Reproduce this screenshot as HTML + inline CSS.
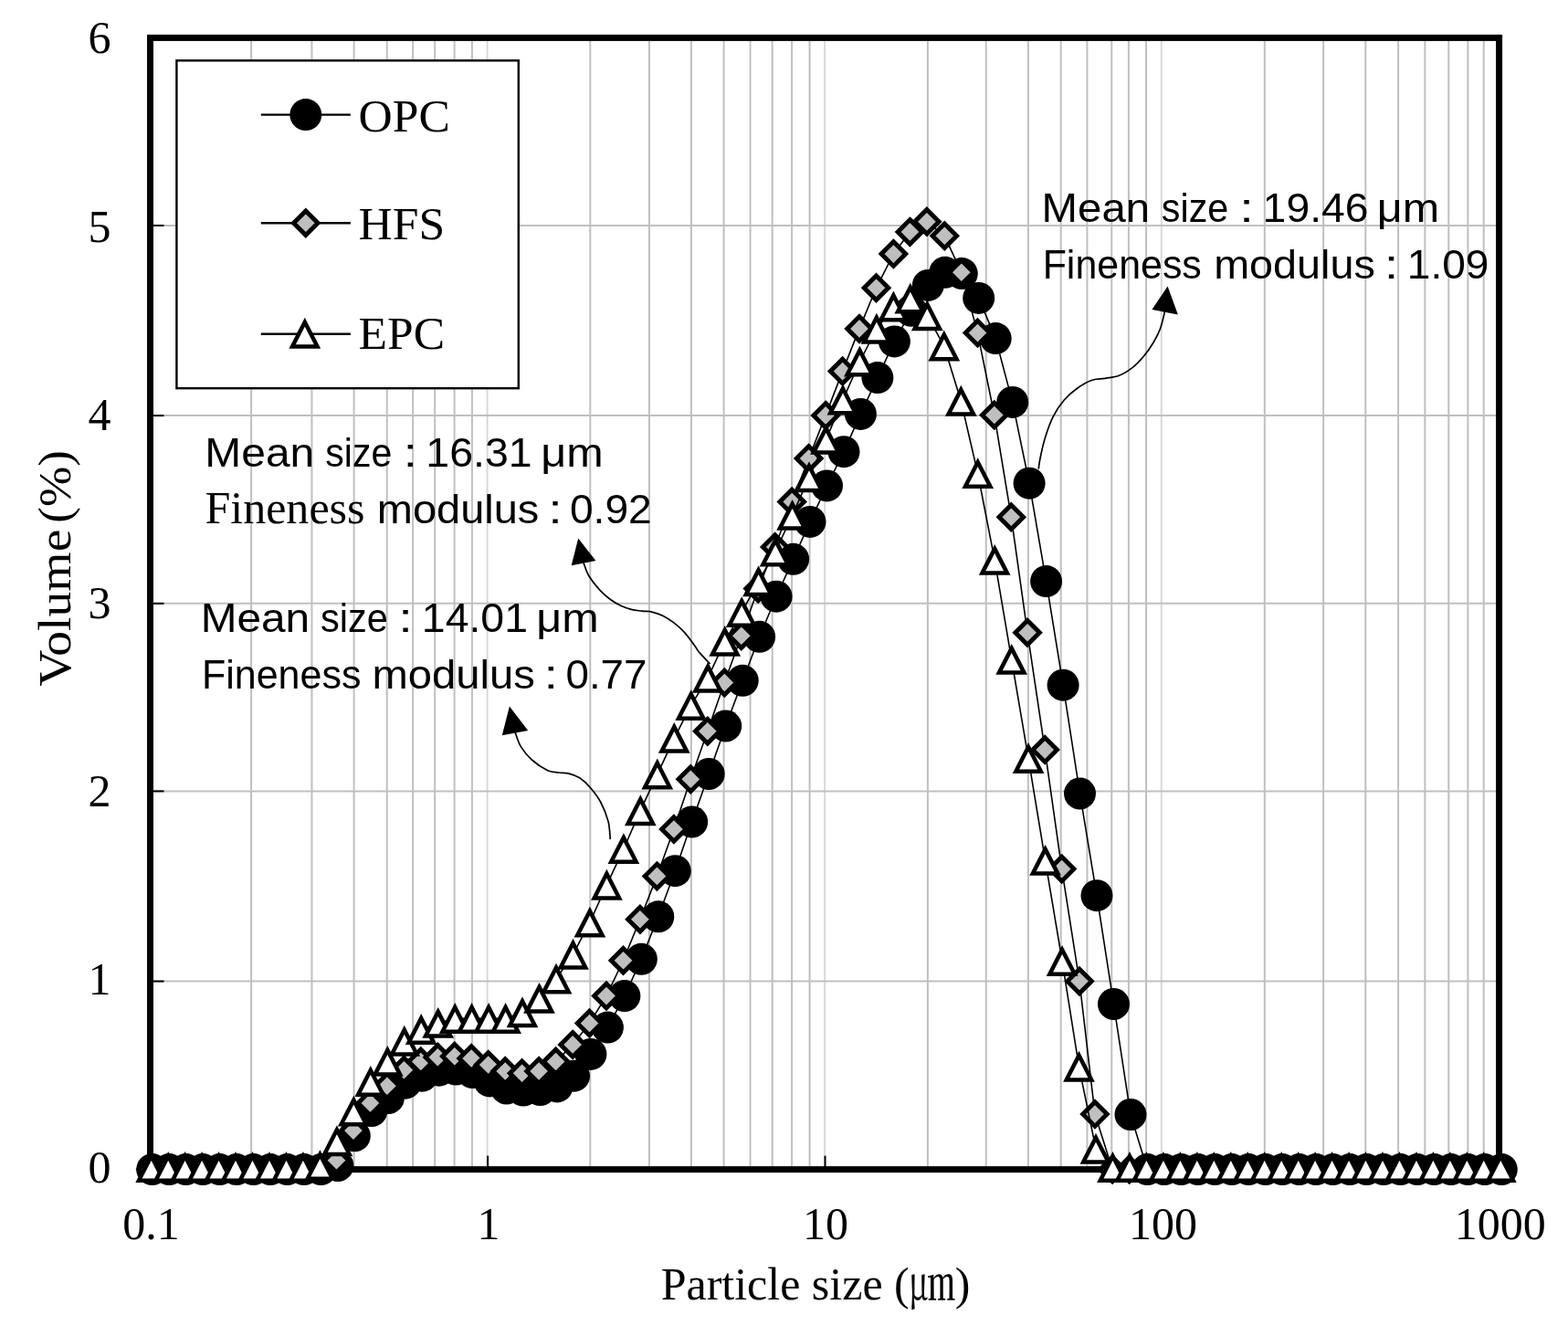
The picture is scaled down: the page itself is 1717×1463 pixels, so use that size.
<!DOCTYPE html>
<html lang="en"><head><meta charset="utf-8"><title>Particle size distribution</title>
<style>html,body{margin:0;padding:0;background:#fff}svg{display:block}text{font-family:"Liberation Serif",serif;fill:#000}.sans{font-family:"Liberation Sans",sans-serif}</style></head><body>
<svg width="1717" height="1463" viewBox="0 0 1717 1463">
<rect x="0" y="0" width="1717" height="1463" fill="#fff"/>
<g stroke="#bfbfbf" stroke-width="2" fill="none">
<line x1="275.10" y1="41.40" x2="275.10" y2="1280.60"/>
<line x1="341.45" y1="41.40" x2="341.45" y2="1280.60"/>
<line x1="387.60" y1="41.40" x2="387.60" y2="1280.60"/>
<line x1="423.70" y1="41.40" x2="423.70" y2="1280.60"/>
<line x1="452.15" y1="41.40" x2="452.15" y2="1280.60"/>
<line x1="476.18" y1="41.40" x2="476.18" y2="1280.60"/>
<line x1="497.60" y1="41.40" x2="497.60" y2="1280.60"/>
<line x1="516.90" y1="41.40" x2="516.90" y2="1280.60"/>
<line x1="533.60" y1="41.40" x2="533.60" y2="1280.60" stroke="#d8d8d8"/>
<line x1="646.30" y1="41.40" x2="646.30" y2="1280.60"/>
<line x1="710.95" y1="41.40" x2="710.95" y2="1280.60"/>
<line x1="756.90" y1="41.40" x2="756.90" y2="1280.60"/>
<line x1="792.60" y1="41.40" x2="792.60" y2="1280.60"/>
<line x1="821.55" y1="41.40" x2="821.55" y2="1280.60"/>
<line x1="845.68" y1="41.40" x2="845.68" y2="1280.60"/>
<line x1="867.10" y1="41.40" x2="867.10" y2="1280.60"/>
<line x1="886.60" y1="41.40" x2="886.60" y2="1280.60"/>
<line x1="903.20" y1="41.40" x2="903.20" y2="1280.60" stroke="#d8d8d8"/>
<line x1="1015.90" y1="41.40" x2="1015.90" y2="1280.60"/>
<line x1="1079.75" y1="41.40" x2="1079.75" y2="1280.60"/>
<line x1="1125.90" y1="41.40" x2="1125.90" y2="1280.60"/>
<line x1="1161.70" y1="41.40" x2="1161.70" y2="1280.60"/>
<line x1="1190.45" y1="41.40" x2="1190.45" y2="1280.60"/>
<line x1="1217.28" y1="41.40" x2="1217.28" y2="1280.60"/>
<line x1="1235.90" y1="41.40" x2="1235.90" y2="1280.60"/>
<line x1="1255.10" y1="41.40" x2="1255.10" y2="1280.60"/>
<line x1="1271.80" y1="41.40" x2="1271.80" y2="1280.60" stroke="#d8d8d8"/>
<line x1="1384.80" y1="41.40" x2="1384.80" y2="1280.60"/>
<line x1="1449.15" y1="41.40" x2="1449.15" y2="1280.60"/>
<line x1="1495.30" y1="41.40" x2="1495.30" y2="1280.60"/>
<line x1="1531.10" y1="41.40" x2="1531.10" y2="1280.60"/>
<line x1="1560.35" y1="41.40" x2="1560.35" y2="1280.60"/>
<line x1="1586.28" y1="41.40" x2="1586.28" y2="1280.60"/>
<line x1="1607.40" y1="41.40" x2="1607.40" y2="1280.60"/>
<line x1="1624.70" y1="41.40" x2="1624.70" y2="1280.60"/>
<line x1="164.50" y1="1074.56" x2="1641.60" y2="1074.56"/>
<line x1="164.50" y1="866.40" x2="1641.60" y2="866.40"/>
<line x1="164.50" y1="660.86" x2="1641.60" y2="660.86"/>
<line x1="164.50" y1="455.10" x2="1641.60" y2="455.10"/>
<line x1="164.50" y1="246.95" x2="1641.60" y2="246.95"/>
</g>
<g stroke="#000" stroke-width="2" fill="none">
<line x1="164.50" y1="1074.56" x2="179.50" y2="1074.56"/>
<line x1="164.50" y1="866.40" x2="179.50" y2="866.40"/>
<line x1="164.50" y1="660.86" x2="179.50" y2="660.86"/>
<line x1="164.50" y1="455.10" x2="179.50" y2="455.10"/>
<line x1="164.50" y1="246.95" x2="179.50" y2="246.95"/>
<line x1="534.10" y1="1280.60" x2="534.10" y2="1265.60"/>
<line x1="903.50" y1="1280.60" x2="903.50" y2="1265.60"/>
<line x1="1272.90" y1="1280.60" x2="1272.90" y2="1265.60"/>
</g>
<rect x="164.50" y="41.40" width="1477.10" height="1239.20" fill="none" stroke="#000" stroke-width="7"/>
<rect x="193.4" y="66.3" width="374.4" height="358.9" fill="#fff" stroke="#000" stroke-width="2.4"/>
<g fill="none" stroke="#000" stroke-width="1.7">
<path d="M1137.3 513.5C1137.5 511.8 1137.7 508.5 1138.8 503.0C1139.9 497.5 1141.7 488.3 1144.1 480.5C1146.5 472.7 1149.6 463.4 1153.1 456.4C1156.6 449.4 1160.6 443.6 1165.1 438.3C1169.6 433.0 1175.2 428.4 1180.2 424.8C1185.2 421.2 1190.2 418.2 1195.2 416.5C1200.2 414.8 1205.2 415.2 1210.2 414.3C1215.2 413.4 1220.3 413.3 1225.3 411.3C1230.3 409.3 1235.8 405.8 1240.3 402.3C1244.8 398.8 1248.5 394.7 1252.3 390.2C1256.1 385.7 1259.9 380.2 1262.9 375.2C1265.9 370.2 1268.4 365.5 1270.4 360.2C1272.4 354.9 1274.0 347.6 1274.9 343.6C1275.8 339.6 1275.8 337.3 1276.0 336.0"/>
<path d="M777.5 727.0C775.5 724.9 768.5 717.6 765.7 714.4C763.0 711.1 763.7 711.2 761.0 707.5C758.3 703.8 753.3 696.7 749.4 692.4C745.5 688.1 741.7 684.9 737.8 681.9C733.9 678.9 730.1 676.3 726.2 674.4C722.3 672.5 718.5 671.2 714.6 670.3C710.7 669.4 706.9 669.6 703.0 669.1C699.1 668.6 695.2 668.4 691.3 667.4C687.4 666.4 683.6 665.1 679.7 663.3C675.8 661.4 672.0 659.2 668.1 656.3C664.2 653.4 660.4 650.1 656.5 645.9C652.6 641.6 647.7 635.4 644.9 630.8C642.1 626.1 640.8 621.1 639.6 618.0C638.5 614.9 638.3 613.0 638.0 612.0"/>
<path d="M668.3 919.2C667.9 915.9 667.8 906.2 666.0 899.4C664.2 892.6 661.1 884.7 657.8 878.5C654.5 872.3 650.1 866.8 646.2 862.3C642.3 857.8 638.5 854.3 634.6 851.8C630.7 849.3 626.9 848.1 623.0 847.1C619.1 846.1 615.2 846.6 611.3 846.0C607.4 845.4 604.5 846.0 599.7 843.7C594.9 841.4 587.1 836.3 582.3 832.0C577.5 827.7 573.6 822.7 570.7 818.1C567.8 813.5 566.1 807.6 564.9 804.2C563.7 800.9 563.7 799.0 563.5 798.0"/>
</g>
<g fill="#000" stroke="none">
<polygon points="1278.6,313.5 1261.4,339.1 1289.9,344.4"/>
<polygon points="633.2,589.5 625.7,619.2 652.4,613.9"/>
<polygon points="557.9,773.4 549.8,805.3 578.2,800.1"/>
</g>
<g id="opc"><polyline points="166.7,1280.6 185.2,1280.6 203.6,1280.6 222.1,1280.6 240.6,1280.6 259.0,1280.6 277.5,1280.6 296.0,1280.6 314.5,1280.6 332.9,1280.6 351.4,1280.6 369.9,1276.5 388.3,1243.8 406.8,1216.6 425.3,1202.5 443.8,1186.2 462.2,1178.2 480.7,1172.2 499.2,1171.1 517.6,1174.6 536.1,1183.9 554.6,1192.0 573.0,1194.1 591.5,1193.6 610.0,1189.9 628.5,1178.2 646.9,1154.4 665.4,1125.1 683.9,1090.6 702.3,1050.3 720.8,1003.8 739.3,953.7 757.7,900.0 776.2,847.5 794.7,795.0 813.2,745.3 831.6,697.3 850.1,653.2 868.6,612.3 887.0,571.4 905.5,531.9 924.0,494.7 942.4,453.4 960.9,413.6 979.4,373.9 997.8,340.3 1016.3,312.4 1034.8,298.3 1053.3,299.6 1071.7,326.4 1090.2,370.6 1108.7,440.4 1127.1,529.2 1145.6,636.6 1164.1,750.2 1182.5,869.0 1201.0,980.7 1219.5,1099.5 1238.0,1220.5 1256.4,1280.6 1274.9,1280.6 1293.4,1280.6 1311.8,1280.6 1330.3,1280.6 1348.8,1280.6 1367.2,1280.6 1385.7,1280.6 1404.2,1280.6 1422.7,1280.6 1441.1,1280.6 1459.6,1280.6 1478.1,1280.6 1496.5,1280.6 1515.0,1280.6 1533.5,1280.6 1552.0,1280.6 1570.4,1280.6 1588.9,1280.6 1607.4,1280.6 1625.8,1280.6 1644.3,1280.6" fill="none" stroke="#000" stroke-width="1.6"/>
<g fill="#000">
<circle cx="166.7" cy="1280.6" r="17.5"/>
<circle cx="185.2" cy="1280.6" r="17.5"/>
<circle cx="203.6" cy="1280.6" r="17.5"/>
<circle cx="222.1" cy="1280.6" r="17.5"/>
<circle cx="240.6" cy="1280.6" r="17.5"/>
<circle cx="259.0" cy="1280.6" r="17.5"/>
<circle cx="277.5" cy="1280.6" r="17.5"/>
<circle cx="296.0" cy="1280.6" r="17.5"/>
<circle cx="314.5" cy="1280.6" r="17.5"/>
<circle cx="332.9" cy="1280.6" r="17.5"/>
<circle cx="351.4" cy="1280.6" r="17.5"/>
<circle cx="369.9" cy="1276.5" r="17.5"/>
<circle cx="388.3" cy="1243.8" r="17.5"/>
<circle cx="406.8" cy="1216.6" r="17.5"/>
<circle cx="425.3" cy="1202.5" r="17.5"/>
<circle cx="443.8" cy="1186.2" r="17.5"/>
<circle cx="462.2" cy="1178.2" r="17.5"/>
<circle cx="480.7" cy="1172.2" r="17.5"/>
<circle cx="499.2" cy="1171.1" r="17.5"/>
<circle cx="517.6" cy="1174.6" r="17.5"/>
<circle cx="536.1" cy="1183.9" r="17.5"/>
<circle cx="554.6" cy="1192.0" r="17.5"/>
<circle cx="573.0" cy="1194.1" r="17.5"/>
<circle cx="591.5" cy="1193.6" r="17.5"/>
<circle cx="610.0" cy="1189.9" r="17.5"/>
<circle cx="628.5" cy="1178.2" r="17.5"/>
<circle cx="646.9" cy="1154.4" r="17.5"/>
<circle cx="665.4" cy="1125.1" r="17.5"/>
<circle cx="683.9" cy="1090.6" r="17.5"/>
<circle cx="702.3" cy="1050.3" r="17.5"/>
<circle cx="720.8" cy="1003.8" r="17.5"/>
<circle cx="739.3" cy="953.7" r="17.5"/>
<circle cx="757.7" cy="900.0" r="17.5"/>
<circle cx="776.2" cy="847.5" r="17.5"/>
<circle cx="794.7" cy="795.0" r="17.5"/>
<circle cx="813.2" cy="745.3" r="17.5"/>
<circle cx="831.6" cy="697.3" r="17.5"/>
<circle cx="850.1" cy="653.2" r="17.5"/>
<circle cx="868.6" cy="612.3" r="17.5"/>
<circle cx="887.0" cy="571.4" r="17.5"/>
<circle cx="905.5" cy="531.9" r="17.5"/>
<circle cx="924.0" cy="494.7" r="17.5"/>
<circle cx="942.4" cy="453.4" r="17.5"/>
<circle cx="960.9" cy="413.6" r="17.5"/>
<circle cx="979.4" cy="373.9" r="17.5"/>
<circle cx="997.8" cy="340.3" r="17.5"/>
<circle cx="1016.3" cy="312.4" r="17.5"/>
<circle cx="1034.8" cy="298.3" r="17.5"/>
<circle cx="1053.3" cy="299.6" r="17.5"/>
<circle cx="1071.7" cy="326.4" r="17.5"/>
<circle cx="1090.2" cy="370.6" r="17.5"/>
<circle cx="1108.7" cy="440.4" r="17.5"/>
<circle cx="1127.1" cy="529.2" r="17.5"/>
<circle cx="1145.6" cy="636.6" r="17.5"/>
<circle cx="1164.1" cy="750.2" r="17.5"/>
<circle cx="1182.5" cy="869.0" r="17.5"/>
<circle cx="1201.0" cy="980.7" r="17.5"/>
<circle cx="1219.5" cy="1099.5" r="17.5"/>
<circle cx="1238.0" cy="1220.5" r="17.5"/>
<circle cx="1256.4" cy="1280.6" r="17.5"/>
<circle cx="1274.9" cy="1280.6" r="17.5"/>
<circle cx="1293.4" cy="1280.6" r="17.5"/>
<circle cx="1311.8" cy="1280.6" r="17.5"/>
<circle cx="1330.3" cy="1280.6" r="17.5"/>
<circle cx="1348.8" cy="1280.6" r="17.5"/>
<circle cx="1367.2" cy="1280.6" r="17.5"/>
<circle cx="1385.7" cy="1280.6" r="17.5"/>
<circle cx="1404.2" cy="1280.6" r="17.5"/>
<circle cx="1422.7" cy="1280.6" r="17.5"/>
<circle cx="1441.1" cy="1280.6" r="17.5"/>
<circle cx="1459.6" cy="1280.6" r="17.5"/>
<circle cx="1478.1" cy="1280.6" r="17.5"/>
<circle cx="1496.5" cy="1280.6" r="17.5"/>
<circle cx="1515.0" cy="1280.6" r="17.5"/>
<circle cx="1533.5" cy="1280.6" r="17.5"/>
<circle cx="1552.0" cy="1280.6" r="17.5"/>
<circle cx="1570.4" cy="1280.6" r="17.5"/>
<circle cx="1588.9" cy="1280.6" r="17.5"/>
<circle cx="1607.4" cy="1280.6" r="17.5"/>
<circle cx="1625.8" cy="1280.6" r="17.5"/>
<circle cx="1644.3" cy="1280.6" r="17.5"/>
</g></g>
<g id="hfs"><polyline points="165.3,1280.6 183.8,1280.6 202.2,1280.6 220.7,1280.6 239.2,1280.6 257.6,1280.6 276.1,1280.6 294.6,1280.6 313.1,1280.6 331.5,1280.6 350.0,1280.6 368.5,1270.7 386.9,1238.1 405.4,1207.9 423.9,1189.3 442.4,1171.8 460.8,1162.5 479.3,1157.7 497.8,1156.7 516.2,1159.0 534.7,1166.0 553.2,1173.0 571.6,1175.3 590.1,1173.0 608.6,1162.5 627.1,1143.9 645.5,1120.5 664.0,1090.6 682.5,1051.8 700.9,1006.7 719.4,959.4 737.9,908.0 756.3,853.3 774.8,800.8 793.3,747.5 811.8,696.3 830.2,644.5 848.7,599.0 867.2,549.5 885.6,502.0 904.1,454.9 922.6,406.6 941.0,359.9 959.5,315.3 978.4,278.1 996.4,253.9 1014.9,242.8 1034.3,258.3 1052.8,298.3 1070.5,364.6 1088.8,454.5 1107.3,566.2 1125.1,692.8 1144.2,821.1 1162.7,951.6 1182.0,1074.5 1199.0,1220.1 1218.1,1280.6 1236.6,1280.6 1255.0,1280.6 1273.5,1280.6 1292.0,1280.6 1310.4,1280.6 1328.9,1280.6 1347.4,1280.6 1365.8,1280.6 1384.3,1280.6 1402.8,1280.6 1421.3,1280.6 1439.7,1280.6 1458.2,1280.6 1476.7,1280.6 1495.1,1280.6 1513.6,1280.6 1532.1,1280.6 1550.5,1280.6 1569.0,1280.6 1587.5,1280.6 1606.0,1280.6 1624.4,1280.6 1642.9,1280.6" fill="none" stroke="#000" stroke-width="1.6"/>
<g fill="#bfbfbf" stroke="#000" stroke-width="4.9" stroke-linejoin="miter">
<path d="M165.3 1267.3L178.6 1280.6L165.3 1293.9L152.0 1280.6Z"/>
<path d="M183.8 1267.3L197.1 1280.6L183.8 1293.9L170.5 1280.6Z"/>
<path d="M202.2 1267.3L215.5 1280.6L202.2 1293.9L188.9 1280.6Z"/>
<path d="M220.7 1267.3L234.0 1280.6L220.7 1293.9L207.4 1280.6Z"/>
<path d="M239.2 1267.3L252.5 1280.6L239.2 1293.9L225.9 1280.6Z"/>
<path d="M257.6 1267.3L270.9 1280.6L257.6 1293.9L244.3 1280.6Z"/>
<path d="M276.1 1267.3L289.4 1280.6L276.1 1293.9L262.8 1280.6Z"/>
<path d="M294.6 1267.3L307.9 1280.6L294.6 1293.9L281.3 1280.6Z"/>
<path d="M313.1 1267.3L326.4 1280.6L313.1 1293.9L299.8 1280.6Z"/>
<path d="M331.5 1267.3L344.8 1280.6L331.5 1293.9L318.2 1280.6Z"/>
<path d="M350.0 1267.3L363.3 1280.6L350.0 1293.9L336.7 1280.6Z"/>
<path d="M368.5 1257.4L381.8 1270.7L368.5 1284.0L355.2 1270.7Z"/>
<path d="M386.9 1224.8L400.2 1238.1L386.9 1251.4L373.6 1238.1Z"/>
<path d="M405.4 1194.6L418.7 1207.9L405.4 1221.2L392.1 1207.9Z"/>
<path d="M423.9 1176.0L437.2 1189.3L423.9 1202.6L410.6 1189.3Z"/>
<path d="M442.4 1158.5L455.7 1171.8L442.4 1185.1L429.1 1171.8Z"/>
<path d="M460.8 1149.2L474.1 1162.5L460.8 1175.8L447.5 1162.5Z"/>
<path d="M479.3 1144.4L492.6 1157.7L479.3 1171.0L466.0 1157.7Z"/>
<path d="M497.8 1143.4L511.1 1156.7L497.8 1170.0L484.5 1156.7Z"/>
<path d="M516.2 1145.7L529.5 1159.0L516.2 1172.3L502.9 1159.0Z"/>
<path d="M534.7 1152.7L548.0 1166.0L534.7 1179.3L521.4 1166.0Z"/>
<path d="M553.2 1159.7L566.5 1173.0L553.2 1186.3L539.9 1173.0Z"/>
<path d="M571.6 1162.0L584.9 1175.3L571.6 1188.6L558.3 1175.3Z"/>
<path d="M590.1 1159.7L603.4 1173.0L590.1 1186.3L576.8 1173.0Z"/>
<path d="M608.6 1149.2L621.9 1162.5L608.6 1175.8L595.3 1162.5Z"/>
<path d="M627.1 1130.6L640.4 1143.9L627.1 1157.2L613.8 1143.9Z"/>
<path d="M645.5 1107.2L658.8 1120.5L645.5 1133.8L632.2 1120.5Z"/>
<path d="M664.0 1077.3L677.3 1090.6L664.0 1103.9L650.7 1090.6Z"/>
<path d="M682.5 1038.5L695.8 1051.8L682.5 1065.1L669.2 1051.8Z"/>
<path d="M700.9 993.4L714.2 1006.7L700.9 1020.0L687.6 1006.7Z"/>
<path d="M719.4 946.1L732.7 959.4L719.4 972.7L706.1 959.4Z"/>
<path d="M737.9 894.7L751.2 908.0L737.9 921.3L724.6 908.0Z"/>
<path d="M756.3 840.0L769.6 853.3L756.3 866.6L743.0 853.3Z"/>
<path d="M774.8 787.5L788.1 800.8L774.8 814.1L761.5 800.8Z"/>
<path d="M793.3 734.2L806.6 747.5L793.3 760.8L780.0 747.5Z"/>
<path d="M811.8 683.0L825.1 696.3L811.8 709.6L798.5 696.3Z"/>
<path d="M830.2 631.2L843.5 644.5L830.2 657.8L816.9 644.5Z"/>
<path d="M848.7 585.7L862.0 599.0L848.7 612.3L835.4 599.0Z"/>
<path d="M867.2 536.2L880.5 549.5L867.2 562.8L853.9 549.5Z"/>
<path d="M885.6 488.7L898.9 502.0L885.6 515.3L872.3 502.0Z"/>
<path d="M904.1 441.6L917.4 454.9L904.1 468.2L890.8 454.9Z"/>
<path d="M922.6 393.3L935.9 406.6L922.6 419.9L909.3 406.6Z"/>
<path d="M941.0 346.6L954.3 359.9L941.0 373.2L927.7 359.9Z"/>
<path d="M959.5 302.0L972.8 315.3L959.5 328.6L946.2 315.3Z"/>
<path d="M978.4 264.8L991.7 278.1L978.4 291.4L965.1 278.1Z"/>
<path d="M996.4 240.6L1009.7 253.9L996.4 267.2L983.1 253.9Z"/>
<path d="M1014.9 229.5L1028.2 242.8L1014.9 256.1L1001.6 242.8Z"/>
<path d="M1034.3 245.0L1047.6 258.3L1034.3 271.6L1021.0 258.3Z"/>
<path d="M1052.8 285.0L1066.1 298.3L1052.8 311.6L1039.5 298.3Z"/>
<path d="M1070.5 351.3L1083.8 364.6L1070.5 377.9L1057.2 364.6Z"/>
<path d="M1088.8 441.2L1102.1 454.5L1088.8 467.8L1075.5 454.5Z"/>
<path d="M1107.3 552.9L1120.6 566.2L1107.3 579.5L1094.0 566.2Z"/>
<path d="M1125.1 679.5L1138.4 692.8L1125.1 706.1L1111.8 692.8Z"/>
<path d="M1144.2 807.8L1157.5 821.1L1144.2 834.4L1130.9 821.1Z"/>
<path d="M1162.7 938.3L1176.0 951.6L1162.7 964.9L1149.4 951.6Z"/>
<path d="M1182.0 1061.2L1195.3 1074.5L1182.0 1087.8L1168.8 1074.5Z"/>
<path d="M1199.0 1206.8L1212.3 1220.1L1199.0 1233.4L1185.7 1220.1Z"/>
<path d="M1218.1 1267.3L1231.4 1280.6L1218.1 1293.9L1204.8 1280.6Z"/>
<path d="M1236.6 1267.3L1249.9 1280.6L1236.6 1293.9L1223.3 1280.6Z"/>
<path d="M1255.0 1267.3L1268.3 1280.6L1255.0 1293.9L1241.7 1280.6Z"/>
<path d="M1273.5 1267.3L1286.8 1280.6L1273.5 1293.9L1260.2 1280.6Z"/>
<path d="M1292.0 1267.3L1305.3 1280.6L1292.0 1293.9L1278.7 1280.6Z"/>
<path d="M1310.4 1267.3L1323.7 1280.6L1310.4 1293.9L1297.1 1280.6Z"/>
<path d="M1328.9 1267.3L1342.2 1280.6L1328.9 1293.9L1315.6 1280.6Z"/>
<path d="M1347.4 1267.3L1360.7 1280.6L1347.4 1293.9L1334.1 1280.6Z"/>
<path d="M1365.8 1267.3L1379.1 1280.6L1365.8 1293.9L1352.5 1280.6Z"/>
<path d="M1384.3 1267.3L1397.6 1280.6L1384.3 1293.9L1371.0 1280.6Z"/>
<path d="M1402.8 1267.3L1416.1 1280.6L1402.8 1293.9L1389.5 1280.6Z"/>
<path d="M1421.3 1267.3L1434.6 1280.6L1421.3 1293.9L1408.0 1280.6Z"/>
<path d="M1439.7 1267.3L1453.0 1280.6L1439.7 1293.9L1426.4 1280.6Z"/>
<path d="M1458.2 1267.3L1471.5 1280.6L1458.2 1293.9L1444.9 1280.6Z"/>
<path d="M1476.7 1267.3L1490.0 1280.6L1476.7 1293.9L1463.4 1280.6Z"/>
<path d="M1495.1 1267.3L1508.4 1280.6L1495.1 1293.9L1481.8 1280.6Z"/>
<path d="M1513.6 1267.3L1526.9 1280.6L1513.6 1293.9L1500.3 1280.6Z"/>
<path d="M1532.1 1267.3L1545.4 1280.6L1532.1 1293.9L1518.8 1280.6Z"/>
<path d="M1550.5 1267.3L1563.8 1280.6L1550.5 1293.9L1537.2 1280.6Z"/>
<path d="M1569.0 1267.3L1582.3 1280.6L1569.0 1293.9L1555.7 1280.6Z"/>
<path d="M1587.5 1267.3L1600.8 1280.6L1587.5 1293.9L1574.2 1280.6Z"/>
<path d="M1606.0 1267.3L1619.3 1280.6L1606.0 1293.9L1592.7 1280.6Z"/>
<path d="M1624.4 1267.3L1637.7 1280.6L1624.4 1293.9L1611.1 1280.6Z"/>
<path d="M1642.9 1267.3L1656.2 1280.6L1642.9 1293.9L1629.6 1280.6Z"/>
</g></g>
<g id="epc"><polyline points="165.7,1278.4 184.2,1278.4 202.6,1278.4 221.1,1278.4 239.6,1278.4 258.0,1278.4 276.5,1278.4 295.0,1278.4 313.5,1278.4 331.9,1278.4 350.4,1276.5 368.9,1249.6 387.3,1217.0 405.8,1184.4 424.3,1162.3 442.8,1140.2 461.2,1127.4 479.7,1120.3 498.2,1115.4 516.6,1115.4 535.1,1115.4 553.6,1115.4 572.0,1108.6 590.5,1093.3 609.0,1072.0 627.5,1045.2 645.9,1010.0 664.4,969.1 682.9,929.5 701.3,887.6 719.8,847.9 738.3,808.3 756.7,772.5 775.2,742.2 793.7,702.3 812.2,670.5 830.6,636.6 849.1,604.0 867.6,564.3 886.0,522.6 904.5,481.3 923.0,437.9 941.4,396.0 959.9,360.1 978.4,335.9 996.8,327.0 1015.3,345.6 1033.8,378.9 1052.3,439.2 1070.7,518.5 1089.2,613.3 1107.7,722.3 1126.1,830.4 1144.6,942.3 1163.1,1052.4 1181.5,1168.2 1200.0,1258.1 1218.5,1278.4 1237.0,1278.4 1255.4,1278.4 1273.9,1278.4 1292.4,1278.4 1310.8,1278.4 1329.3,1278.4 1347.8,1278.4 1366.2,1278.4 1384.7,1278.4 1403.2,1278.4 1421.7,1278.4 1440.1,1278.4 1458.6,1278.4 1477.1,1278.4 1495.5,1278.4 1514.0,1278.4 1532.5,1278.4 1551.0,1278.4 1569.4,1278.4 1587.9,1278.4 1606.4,1278.4 1624.8,1278.4 1643.3,1278.4" fill="none" stroke="#000" stroke-width="1.6"/>
<g fill="#fff" stroke="#000" stroke-width="4.5" stroke-linejoin="miter">
<path d="M165.7 1266.0L179.4 1292.7L152.0 1292.7Z"/>
<path d="M184.2 1266.0L197.9 1292.7L170.5 1292.7Z"/>
<path d="M202.6 1266.0L216.3 1292.7L188.9 1292.7Z"/>
<path d="M221.1 1266.0L234.8 1292.7L207.4 1292.7Z"/>
<path d="M239.6 1266.0L253.3 1292.7L225.9 1292.7Z"/>
<path d="M258.0 1266.0L271.7 1292.7L244.3 1292.7Z"/>
<path d="M276.5 1266.0L290.2 1292.7L262.8 1292.7Z"/>
<path d="M295.0 1266.0L308.7 1292.7L281.3 1292.7Z"/>
<path d="M313.5 1266.0L327.2 1292.7L299.8 1292.7Z"/>
<path d="M331.9 1266.0L345.6 1292.7L318.2 1292.7Z"/>
<path d="M350.4 1264.1L364.1 1290.8L336.7 1290.8Z"/>
<path d="M368.9 1237.2L382.6 1263.9L355.2 1263.9Z"/>
<path d="M387.3 1204.6L401.0 1231.3L373.6 1231.3Z"/>
<path d="M405.8 1172.0L419.5 1198.7L392.1 1198.7Z"/>
<path d="M424.3 1149.9L438.0 1176.6L410.6 1176.6Z"/>
<path d="M442.8 1127.8L456.4 1154.5L429.1 1154.5Z"/>
<path d="M461.2 1115.0L474.9 1141.7L447.5 1141.7Z"/>
<path d="M479.7 1107.9L493.4 1134.6L466.0 1134.6Z"/>
<path d="M498.2 1103.0L511.9 1129.7L484.5 1129.7Z"/>
<path d="M516.6 1103.0L530.3 1129.7L502.9 1129.7Z"/>
<path d="M535.1 1103.0L548.8 1129.7L521.4 1129.7Z"/>
<path d="M553.6 1103.0L567.3 1129.7L539.9 1129.7Z"/>
<path d="M572.0 1096.2L585.7 1122.9L558.3 1122.9Z"/>
<path d="M590.5 1080.9L604.2 1107.6L576.8 1107.6Z"/>
<path d="M609.0 1059.6L622.7 1086.3L595.3 1086.3Z"/>
<path d="M627.5 1032.8L641.2 1059.5L613.8 1059.5Z"/>
<path d="M645.9 997.6L659.6 1024.3L632.2 1024.3Z"/>
<path d="M664.4 956.7L678.1 983.4L650.7 983.4Z"/>
<path d="M682.9 917.1L696.6 943.8L669.2 943.8Z"/>
<path d="M701.3 875.2L715.0 901.9L687.6 901.9Z"/>
<path d="M719.8 835.5L733.5 862.2L706.1 862.2Z"/>
<path d="M738.3 795.9L752.0 822.6L724.6 822.6Z"/>
<path d="M756.7 760.1L770.4 786.8L743.0 786.8Z"/>
<path d="M775.2 729.8L788.9 756.5L761.5 756.5Z"/>
<path d="M793.7 689.9L807.4 716.6L780.0 716.6Z"/>
<path d="M812.2 658.1L825.9 684.8L798.5 684.8Z"/>
<path d="M830.6 624.2L844.3 650.9L816.9 650.9Z"/>
<path d="M849.1 591.6L862.8 618.3L835.4 618.3Z"/>
<path d="M867.6 551.9L881.3 578.6L853.9 578.6Z"/>
<path d="M886.0 510.2L899.7 536.9L872.3 536.9Z"/>
<path d="M904.5 468.9L918.2 495.6L890.8 495.6Z"/>
<path d="M923.0 425.5L936.7 452.2L909.3 452.2Z"/>
<path d="M941.4 383.6L955.1 410.3L927.7 410.3Z"/>
<path d="M959.9 347.7L973.6 374.4L946.2 374.4Z"/>
<path d="M978.4 323.5L992.1 350.2L964.7 350.2Z"/>
<path d="M996.8 314.6L1010.5 341.3L983.1 341.3Z"/>
<path d="M1015.3 333.2L1029.0 359.9L1001.6 359.9Z"/>
<path d="M1033.8 366.5L1047.5 393.2L1020.1 393.2Z"/>
<path d="M1052.3 426.8L1066.0 453.5L1038.6 453.5Z"/>
<path d="M1070.7 506.1L1084.4 532.8L1057.0 532.8Z"/>
<path d="M1089.2 600.9L1102.9 627.6L1075.5 627.6Z"/>
<path d="M1107.7 709.9L1121.4 736.6L1094.0 736.6Z"/>
<path d="M1126.1 818.0L1139.8 844.7L1112.4 844.7Z"/>
<path d="M1144.6 929.9L1158.3 956.6L1130.9 956.6Z"/>
<path d="M1163.1 1040.0L1176.8 1066.7L1149.4 1066.7Z"/>
<path d="M1181.5 1155.8L1195.2 1182.5L1167.8 1182.5Z"/>
<path d="M1200.0 1245.7L1213.7 1272.4L1186.3 1272.4Z"/>
<path d="M1218.5 1266.0L1232.2 1292.7L1204.8 1292.7Z"/>
<path d="M1237.0 1266.0L1250.7 1292.7L1223.3 1292.7Z"/>
<path d="M1255.4 1266.0L1269.1 1292.7L1241.7 1292.7Z"/>
<path d="M1273.9 1266.0L1287.6 1292.7L1260.2 1292.7Z"/>
<path d="M1292.4 1266.0L1306.1 1292.7L1278.7 1292.7Z"/>
<path d="M1310.8 1266.0L1324.5 1292.7L1297.1 1292.7Z"/>
<path d="M1329.3 1266.0L1343.0 1292.7L1315.6 1292.7Z"/>
<path d="M1347.8 1266.0L1361.5 1292.7L1334.1 1292.7Z"/>
<path d="M1366.2 1266.0L1380.0 1292.7L1352.5 1292.7Z"/>
<path d="M1384.7 1266.0L1398.4 1292.7L1371.0 1292.7Z"/>
<path d="M1403.2 1266.0L1416.9 1292.7L1389.5 1292.7Z"/>
<path d="M1421.7 1266.0L1435.4 1292.7L1408.0 1292.7Z"/>
<path d="M1440.1 1266.0L1453.8 1292.7L1426.4 1292.7Z"/>
<path d="M1458.6 1266.0L1472.3 1292.7L1444.9 1292.7Z"/>
<path d="M1477.1 1266.0L1490.8 1292.7L1463.4 1292.7Z"/>
<path d="M1495.5 1266.0L1509.2 1292.7L1481.8 1292.7Z"/>
<path d="M1514.0 1266.0L1527.7 1292.7L1500.3 1292.7Z"/>
<path d="M1532.5 1266.0L1546.2 1292.7L1518.8 1292.7Z"/>
<path d="M1551.0 1266.0L1564.7 1292.7L1537.2 1292.7Z"/>
<path d="M1569.4 1266.0L1583.1 1292.7L1555.7 1292.7Z"/>
<path d="M1587.9 1266.0L1601.6 1292.7L1574.2 1292.7Z"/>
<path d="M1606.4 1266.0L1620.1 1292.7L1592.7 1292.7Z"/>
<path d="M1624.8 1266.0L1638.5 1292.7L1611.1 1292.7Z"/>
<path d="M1643.3 1266.0L1657.0 1292.7L1629.6 1292.7Z"/>
</g></g>
<line x1="285.8" y1="125.6" x2="383.9" y2="125.6" stroke="#000" stroke-width="2.4"/>
<circle cx="334.8" cy="125.6" r="17.5" fill="#000"/>
<text x="392.6" y="143.8" font-size="51.5">OPC</text>
<line x1="285.8" y1="244.2" x2="383.9" y2="244.2" stroke="#000" stroke-width="2.4"/>
<path d="M334.8 230.9L348.1 244.2L334.8 257.5L321.5 244.2Z" fill="#bfbfbf" stroke="#000" stroke-width="4.9"/>
<text x="392.6" y="262.3" font-size="51.5">HFS</text>
<line x1="285.8" y1="365.8" x2="383.9" y2="365.8" stroke="#000" stroke-width="2.4"/>
<path d="M333.8 352.7L347.5 379.4L320.1 379.4Z" fill="#fff" stroke="#000" stroke-width="4.5"/>
<text x="392.6" y="382.1" font-size="51.5">EPC</text>
<text class="sans" y="243.0" font-size="45" xml:space="preserve"><tspan x="1140.61" font-size="45" textLength="118.55" lengthAdjust="spacingAndGlyphs">Mean</tspan> <tspan x="1271.86" font-size="45" textLength="73.33" lengthAdjust="spacingAndGlyphs">size</tspan> <tspan x="1357.37" font-size="45" textLength="15.63" lengthAdjust="spacingAndGlyphs">:</tspan> <tspan x="1382.63" font-size="45" textLength="115.94" lengthAdjust="spacingAndGlyphs">19.46</tspan> <tspan x="1507.85" font-size="45" textLength="68.37" lengthAdjust="spacingAndGlyphs">μm</tspan></text>
<text class="sans" y="305.1" font-size="45" xml:space="preserve"><tspan x="1141.67" font-size="45" textLength="174.14" lengthAdjust="spacingAndGlyphs">Fineness</tspan> <tspan x="1329.16" font-size="45" textLength="176.67" lengthAdjust="spacingAndGlyphs">modulus</tspan> <tspan x="1515.77" font-size="45" textLength="15.63" lengthAdjust="spacingAndGlyphs">:</tspan> <tspan x="1540.85" font-size="45" textLength="89.58" lengthAdjust="spacingAndGlyphs">1.09</tspan></text>
<text class="sans" y="510.7" font-size="45" xml:space="preserve"><tspan x="224.37" font-size="45" textLength="119.82" lengthAdjust="spacingAndGlyphs">Mean</tspan> <tspan x="356.37" font-size="45" textLength="72.91" lengthAdjust="spacingAndGlyphs">size</tspan> <tspan x="441.52" font-size="45" textLength="15.63" lengthAdjust="spacingAndGlyphs">:</tspan> <tspan x="466.31" font-size="45" textLength="116.29" lengthAdjust="spacingAndGlyphs">16.31</tspan> <tspan x="592.35" font-size="45" textLength="68.37" lengthAdjust="spacingAndGlyphs">μm</tspan></text>
<text class="sans" y="572.8" font-size="45" xml:space="preserve"><tspan x="224.40" font-size="50" textLength="175.15" lengthAdjust="spacingAndGlyphs" style="font-family:'Liberation Serif',serif">Fineness</tspan> <tspan x="412.85" font-size="45" textLength="177.49" lengthAdjust="spacingAndGlyphs">modulus</tspan> <tspan x="600.27" font-size="45" textLength="15.63" lengthAdjust="spacingAndGlyphs">:</tspan> <tspan x="623.95" font-size="45" textLength="89.81" lengthAdjust="spacingAndGlyphs">0.92</tspan></text>
<text class="sans" y="691.8" font-size="45" xml:space="preserve"><tspan x="219.78" font-size="45" textLength="119.40" lengthAdjust="spacingAndGlyphs">Mean</tspan> <tspan x="351.06" font-size="45" textLength="73.75" lengthAdjust="spacingAndGlyphs">size</tspan> <tspan x="436.22" font-size="45" textLength="15.63" lengthAdjust="spacingAndGlyphs">:</tspan> <tspan x="461.82" font-size="45" textLength="116.19" lengthAdjust="spacingAndGlyphs">14.01</tspan> <tspan x="587.35" font-size="45" textLength="68.37" lengthAdjust="spacingAndGlyphs">μm</tspan></text>
<text class="sans" y="753.6" font-size="45" xml:space="preserve"><tspan x="220.96" font-size="45" textLength="174.45" lengthAdjust="spacingAndGlyphs">Fineness</tspan> <tspan x="407.53" font-size="45" textLength="178.31" lengthAdjust="spacingAndGlyphs">modulus</tspan> <tspan x="595.52" font-size="45" textLength="15.63" lengthAdjust="spacingAndGlyphs">:</tspan> <tspan x="619.47" font-size="45" textLength="88.98" lengthAdjust="spacingAndGlyphs">0.77</tspan></text>
<text x="109" y="1295.1" font-size="50" text-anchor="middle">0</text>
<text x="109" y="1089.0" font-size="50" text-anchor="middle">1</text>
<text x="109" y="882.9" font-size="50" text-anchor="middle">2</text>
<text x="109" y="676.7" font-size="50" text-anchor="middle">3</text>
<text x="109" y="470.6" font-size="50" text-anchor="middle">4</text>
<text x="109" y="264.5" font-size="50" text-anchor="middle">5</text>
<text x="109" y="58.4" font-size="50" text-anchor="middle">6</text>
<text x="165.6" y="1357" font-size="50" text-anchor="middle">0.1</text>
<text x="534.9" y="1357" font-size="50" text-anchor="middle">1</text>
<text x="904.1" y="1357" font-size="50" text-anchor="middle">10</text>
<text x="1273.4" y="1357" font-size="50" text-anchor="middle">100</text>
<text x="1642.7" y="1357" font-size="50" text-anchor="middle">1000</text>
<text x="893" y="1422.6" font-size="50" text-anchor="middle" style="font-family:'Liberation Serif','Noto Serif CJK SC',serif">Particle size (㎛)</text>
<text class="sans" y="0" font-size="50" xml:space="preserve" transform="translate(76.8 0) rotate(-90)"><tspan x="-751.76" font-size="50" textLength="172.08" lengthAdjust="spacingAndGlyphs" style="font-family:'Liberation Serif',serif">Volume</tspan> <tspan x="-572.79" font-size="50" textLength="79.74" lengthAdjust="spacingAndGlyphs" style="font-family:'Liberation Serif',serif">(%)</tspan></text>
</svg></body></html>
